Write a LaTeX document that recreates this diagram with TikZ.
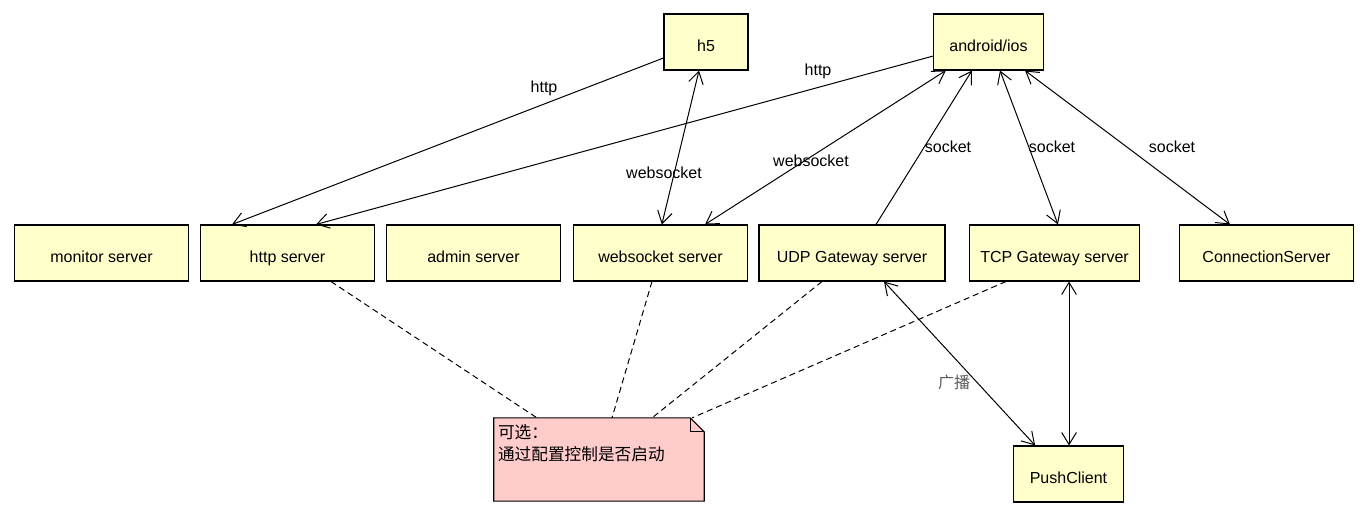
\documentclass[tikz,border=0pt]{standalone}
\usepackage{fontspec}
\setmainfont{Liberation Sans}
\newfontfamily\cjk{Noto Sans CJK SC}
\usetikzlibrary{arrows.meta}
\definecolor{boxfill}{HTML}{FFFFCC}
\definecolor{notefill}{HTML}{FFCCCC}
\tikzset{
  srvbox/.style={draw=black, line width=0.8pt, fill=boxfill, minimum height=42pt, inner sep=0pt, text height=14.5pt, text depth=0pt, font=\fontsize{12}{14}\selectfont},
  lbl/.style={font=\fontsize{12}{14}\selectfont},
  link/.style={line width=0.75pt, -{Straight Barb[length=9pt,width=11pt,line width=0.75pt]}},
  both/.style={line width=0.75pt, {Straight Barb[length=9pt,width=11pt,line width=0.75pt]}-{Straight Barb[length=9pt,width=11pt,line width=0.75pt]}},
  optional/.style={line width=0.75pt, dash pattern=on 4.5pt off 3pt}
}
\begin{document}
\begin{tikzpicture}[x=0.75pt,y=-0.75pt]
        \useasboundingbox (0,0) rectangle (1368,516);

        % Clients at the top
        \node[srvbox, minimum width=63pt] (h5) at (706,42) {h5};
        \node[srvbox, minimum width=82pt] (app) at (988.5,42) {android/ios};

        % Row of servers
        \node[srvbox, minimum width=131pt] (monitor) at (101.5,253) {monitor server};
        \node[srvbox, minimum width=131pt] (http) at (287.5,253) {http server};
        \node[srvbox, minimum width=131pt] (admin) at (473.5,253) {admin server};
        \node[srvbox, minimum width=131pt] (ws) at (660.5,253) {websocket server};
        \node[srvbox, minimum width=139.5pt] (udp) at (852,253) {UDP Gateway server};
        \node[srvbox, minimum width=128pt] (tcp) at (1054.5,253) {TCP Gateway server};
        \node[srvbox, minimum width=131pt] (conn) at (1266.5,253) {ConnectionServer};

        % Push client
        \node[srvbox, minimum width=82pt] (push) at (1068.5,474) {PushClient};

        % Note with a folded corner
        \node[minimum width=157.5pt, minimum height=62pt, inner sep=0pt] (note) at (599,459.5) {};
        \draw[line width=0.8pt, fill=notefill] (note.south west) -- (note.north west)
            -- ([xshift=-10.5pt]note.north east) -- ([yshift=-10.5pt]note.north east)
            -- (note.south east) -- cycle;
        \draw[line width=0.8pt] ([xshift=-10.5pt]note.north east) -- ([xshift=-10.5pt,yshift=-10.5pt]note.north east)
            -- ([yshift=-10.5pt]note.north east);
        \node[anchor=north west, align=left, inner sep=0pt, font=\cjk\fontsize{12.5}{16.5}\selectfont]
            (notetext) at ([xshift=3pt,yshift=-5pt]note.north west) {可选：\\通过配置控制是否启动};

        % http links
        \draw[link] ([yshift=-12pt]h5.west) -- ([xshift=-41.6pt]http.north);
        \draw[link] ([yshift=-10.5pt]app.west) -- ([xshift=21.4pt]http.north);
        \node[lbl] (lhttpa) at (544,88) {http};
        \node[lbl] (lhttpb) at (818,71) {http};

        % websocket links
        \draw[both] ([xshift=-5.25pt]h5.south) -- ([xshift=1pt]ws.north);
        \draw[both] ([xshift=-32pt]app.south) -- ([xshift=33.4pt]ws.north);
        \node[lbl] (lwsa) at (664,173) {websocket};
        \node[lbl] (lwsb) at (811,161) {websocket};

        % socket links
        \draw[link] ([xshift=18pt]udp.north) -- ([xshift=-12.4pt]app.south);
        \draw[both] ([xshift=8.6pt]app.south) -- ([xshift=2.6pt]tcp.north);
        \draw[both] ([xshift=27.4pt]app.south) -- ([xshift=-27.4pt]conn.north);
        \node[lbl] (lsocka) at (948,147) {socket};
        \node[lbl] (lsockb) at (1052,147) {socket};
        \node[lbl] (lsockc) at (1172,147) {socket};

        % gateways to push client
        \draw[both] ([xshift=24pt]udp.south) -- ([xshift=-25pt]push.north);
        \draw[both] ([xshift=10.9pt]tcp.south) -- ([xshift=0.4pt]push.north);
        \node[lbl, font=\cjk\fontsize{12}{14}\selectfont, text=black!65] (lcast) at (954,382) {广播};

        % optional servers
        \draw[optional] ([xshift=32.6pt]http.south) -- ([xshift=-46.5pt]note.north);
        \draw[optional] ([xshift=-6.4pt]ws.south) -- ([xshift=9.75pt]note.north);
        \draw[optional] ([xshift=-22.5pt]udp.south) -- ([xshift=39.75pt]note.north);
        \draw[optional] ([xshift=-36.4pt]tcp.south) -- ([xshift=69.75pt]note.north);
    \end{tikzpicture}
\end{document}
